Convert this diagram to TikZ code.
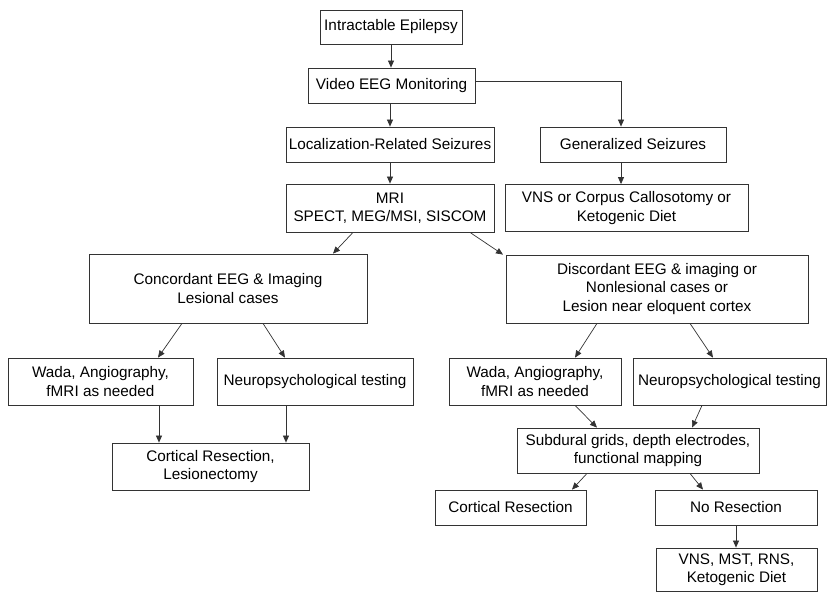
\documentclass[tikz,border=0pt]{standalone}
\usepackage{fontspec}
\setmainfont{Liberation Sans}
\usetikzlibrary{arrows.meta}

\begin{document}
\begin{tikzpicture}[
	x=1pt, y=-1pt,
	box/.style={draw=black!80, line width=0.8pt, inner sep=0pt, align=center,
		font=\fontsize{15.3}{18.5}\selectfont},
	arr/.style={draw=black!80, line width=0.7pt, -{Triangle[width=6pt,length=7pt]}}
	]
	
	\useasboundingbox (0,0) rectangle (827,592);
	
	% top of the tree
	\node[box, minimum width=142pt, minimum height=34pt] (epi) at (391,27) {Intractable Epilepsy};
	\node[box, minimum width=167pt, minimum height=35pt] (veeg) at (391.5,85.5) {Video EEG Monitoring};
	\node[box, minimum width=208pt, minimum height=35pt] (loc) at (390,144.5) {Localization-Related Seizures};
	\node[box, minimum width=186pt, minimum height=35pt] (gen) at (633,144.5) {Generalized Seizures};
	\node[box, minimum width=208pt, minimum height=48pt] (mri) at (390,208) {MRI\\SPECT, MEG/MSI, SISCOM};
	\node[box, minimum width=243pt, minimum height=47pt] (vns) at (626.5,208) {VNS or Corpus Callosotomy or\\Ketogenic Diet};
	
	% left branch
	\node[box, minimum width=278pt, minimum height=69pt] (conc) at (228,288.5) {Concordant EEG \& Imaging\\Lesional cases};
	\node[box, minimum width=185pt, minimum height=47pt] (wadaL) at (100.5,381.5) {Wada, Angiography,\\fMRI as needed};
	\node[box, minimum width=196pt, minimum height=47pt] (neuL) at (315,381.5) {Neuropsychological testing};
	\node[box, minimum width=197pt, minimum height=47pt] (cresl) at (210.5,466.5) {Cortical Resection,\\Lesionectomy};
	
	% right branch
	\node[box, minimum width=302pt, minimum height=68pt] (disc) at (657,289) {Discordant EEG \& imaging or\\Nonlesional cases or\\Lesion near eloquent cortex};
	\node[box, minimum width=172pt, minimum height=47pt] (wadaR) at (535,381.5) {Wada, Angiography,\\fMRI as needed};
	\node[box, minimum width=193pt, minimum height=47pt] (neuR) at (729.5,381.5) {Neuropsychological testing};
	\node[box, minimum width=242pt, minimum height=45pt] (sub) at (638,450.5) {Subdural grids, depth electrodes,\\functional mapping};
	\node[box, minimum width=151pt, minimum height=35pt] (cres) at (510.5,507.5) {Cortical Resection};
	\node[box, minimum width=162pt, minimum height=35pt] (nores) at (736,507.5) {No Resection};
	\node[box, minimum width=161pt, minimum height=43pt] (vnsb) at (736.5,569.5) {VNS, MST, RNS,\\Ketogenic Diet};
	
	\coordinate (turn) at (621,81);
	
	\draw[arr] (epi.south) -- (epi.south |- veeg.north);
	\draw[arr] (loc.north |- veeg.south) -- (loc.north);
	\draw[arr] (veeg.east |- turn) -- (turn) -- (turn |- gen.north);
	\draw[arr] (loc.south) -- (mri.north);
	\draw[arr] (gen.south -| turn) -- (vns.north -| turn);
	
	\draw[arr] ([xshift=-37pt]mri.south) -- ([xshift=105pt]conc.north);
	\draw[arr] ([xshift=80pt]mri.south) -- ([xshift=-154pt]disc.north);
	
	\draw[arr] ([xshift=-46pt]conc.south) -- ([xshift=57.5pt]wadaL.north);
	\draw[arr] ([xshift=35pt]conc.south) -- ([xshift=-30pt]neuL.north);
	\draw[arr] ([xshift=58.5pt]wadaL.south) -- ([xshift=-51.5pt]cresl.north);
	\draw[arr] ([xshift=-29pt]neuL.south) -- ([xshift=75.5pt]cresl.north);
	
	\draw[arr] ([xshift=-60pt]disc.south) -- ([xshift=40pt]wadaR.north);
	\draw[arr] ([xshift=33pt]disc.south) -- ([xshift=-16.5pt]neuR.north);
	\draw[arr] ([xshift=40pt]wadaR.south) -- ([xshift=-41pt]sub.north);
	\draw[arr] ([xshift=-27.5pt]neuR.south) -- ([xshift=54pt]sub.north);
	\draw[arr] ([xshift=-51pt]sub.south) -- ([xshift=61.5pt]cres.north);
	\draw[arr] ([xshift=52pt]sub.south) -- ([xshift=-33pt]nores.north);
	\draw[arr] (nores.south) -- (nores.south |- vnsb.north);
	
\end{tikzpicture}
\end{document}
